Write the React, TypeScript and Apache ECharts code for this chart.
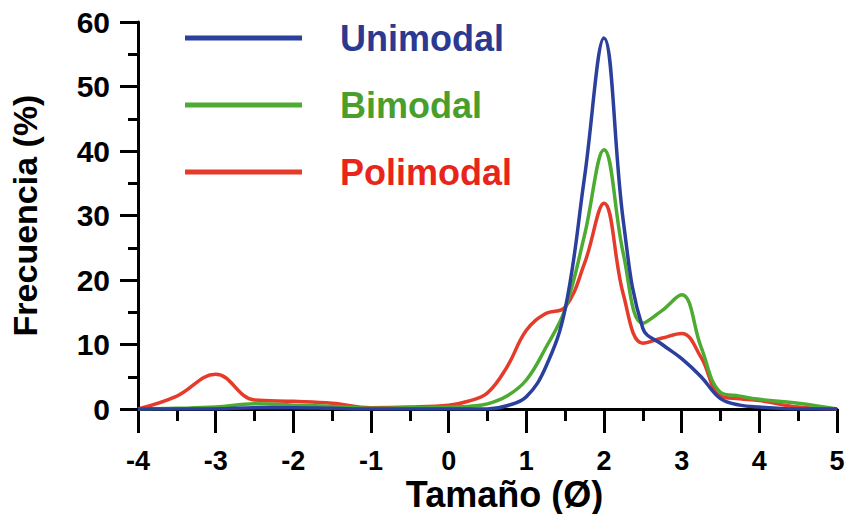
import React, { useEffect, useRef } from 'react';
import * as echarts from 'echarts';

const sizes = [-4, -3.5, -3, -2.5, -2, -1.5, -1, -0.5, 0, 0.25, 0.5, 0.75, 1, 1.25, 1.5, 1.75, 2, 2.25, 2.5, 2.75, 3, 3.25, 3.5, 3.75, 4, 4.5, 5];
const unimodal = [0, 0, 0, 0.2, 0.2, 0.1, 0, 0, 0, 0, 0, 0.5, 1.9, 6.5, 15.5, 36, 57.5, 29, 12.5, 10, 7.8, 5, 1.6, 0.6, 0.3, 0, 0];
const bimodal = [0, 0.1, 0.3, 0.8, 0.6, 0.4, 0.1, 0.2, 0.3, 0.4, 0.8, 2, 4.5, 9.5, 15.5, 27, 40.2, 24, 13.3, 15.3, 17.7, 9.6, 2.6, 2, 1.5, 0.9, 0];
const polimodal = [0, 2, 5.4, 1.4, 1.2, 0.9, 0.2, 0.3, 0.6, 1.2, 2.5, 6.5, 12.2, 14.8, 15.8, 22.6, 31.9, 17.7, 10.2, 11, 11.7, 8, 2, 1.6, 1.3, 0.3, 0];

const seriesNames = ['Unimodal', 'Bimodal', 'Polimodal'];
const lineColors = ['#2b3f9c', '#4cab30', '#e53b2b'];
const textColors = ['#2b3990', '#4a9e2c', '#e8251a'];
const xTicks = { min: -4, max: 5, interval: 1 };
const yTicks = { min: 0, max: 60, interval: 10 };

const FONT = 'Liberation Sans, Arial, Helvetica, sans-serif';

export default function App() {
  const ref = useRef<HTMLDivElement>(null);
  useEffect(() => {
    const chart = echarts.init(ref.current!, null, { renderer: 'svg' });
    const values = [unimodal, bimodal, polimodal];
    chart.setOption({
      animation: false,
      backgroundColor: '#ffffff',
      textStyle: { fontFamily: FONT },
      grid: { left: 138, right: 12, top: 22, bottom: 105, outerBoundsMode: 'none' },
      legend: {
        show: true,
        orient: 'vertical',
        left: 180,
        top: 15,
        icon: 'rect',
        itemWidth: 117,
        itemHeight: 5,
        itemGap: 31,
        textStyle: { fontSize: 36, fontWeight: 'bold', fontFamily: FONT, padding: [0, 0, 0, 33] },
        data: seriesNames.map((n, i) => ({
          name: n,
          itemStyle: { color: lineColors[i] },
          textStyle: { color: textColors[i] },
        })),
      },
      xAxis: {
        type: 'value',
        min: xTicks.min,
        max: xTicks.max,
        interval: xTicks.interval,
        name: 'Tamaño (Ø)',
        nameLocation: 'middle',
        nameGap: 69,
        nameMoveOverlap: false,
        nameTextStyle: { fontSize: 36, lineHeight: 32, fontWeight: 'bold', color: '#000', fontFamily: FONT, padding: [0, 0, 0, 34] },
        axisLine: { show: true, onZero: false, lineStyle: { color: '#000', width: 3 } },
        axisTick: { show: true, length: 24, lineStyle: { color: '#000', width: 3 } },
        minorTick: { show: true, splitNumber: 2, length: 12, lineStyle: { color: '#000', width: 3 } },
        splitLine: { show: false },
        axisLabel: { fontSize: 27, lineHeight: 20, fontWeight: 'bold', color: '#000', margin: 42, fontFamily: FONT },
      },
      yAxis: {
        type: 'value',
        min: yTicks.min,
        max: yTicks.max,
        interval: yTicks.interval,
        name: 'Frecuencia (%)',
        nameLocation: 'middle',
        nameGap: 96,
        nameMoveOverlap: false,
        nameTextStyle: { fontSize: 34, fontWeight: 'bold', color: '#000', fontFamily: FONT },
        axisLine: { show: true, onZero: false, lineStyle: { color: '#000', width: 3 } },
        axisTick: { show: true, length: 18, lineStyle: { color: '#000', width: 3 } },
        minorTick: { show: true, splitNumber: 2, length: 10, lineStyle: { color: '#000', width: 3 } },
        splitLine: { show: false },
        axisLabel: { fontSize: 30, fontWeight: 'bold', color: '#000', margin: 28, fontFamily: FONT },
      },
      series: seriesNames.map((n, i) => ({
        name: n,
        type: 'line',
        smooth: 0.4,
        showSymbol: false,
        symbol: 'none',
        color: lineColors[i],
        lineStyle: { color: lineColors[i], width: 3.5 },
        data: sizes.map((x, k) => [x, values[i][k]]),
        z: 3 - i,
      })),
    });
    return () => chart.dispose();
  }, []);
  return <div ref={ref} style={{ position: 'fixed', left: 0, top: 0, width: 849, height: 514 }} />;
}
